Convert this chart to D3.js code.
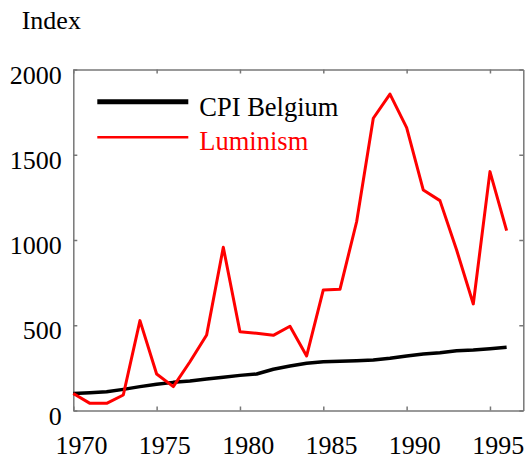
<!DOCTYPE html>
<html>
<head>
<meta charset="utf-8">
<title>CPI Belgium vs Luminism</title>
<script src="https://d3js.org/d3.v7.min.js"></script>
<style type="text/css">
body {
    margin: 0;
    background: #fff;
}
</style>
</head>
<body>
<div id="chart"></div>
<script>
// data
var years = [1970, 1971, 1972, 1973, 1974, 1975, 1976, 1977, 1978, 1979,
             1980, 1981, 1982, 1983, 1984, 1985, 1986, 1987, 1988, 1989,
             1990, 1991, 1992, 1993, 1994, 1995, 1996];
var cpiBelgium = [100, 104, 110, 124, 140, 154, 165, 173, 185, 195,
                  206, 214, 242, 261, 277, 286, 289, 292, 296, 306,
                  320, 331, 339, 351, 355, 362, 371];
var luminism = [100, 42, 42, 91, 527, 214, 140, 286, 443, 957,
                462, 453, 441, 494, 320, 707, 711, 1107, 1714, 1856,
                1659, 1293, 1231, 941, 625, 1401, 1055];
var xTicks = [1970, 1975, 1980, 1985, 1990, 1995];
var yTicks = [0, 500, 1000, 1500, 2000];
var seriesNames = ["CPI Belgium", "Luminism"];

var width = 526, height = 460;
var frameColor = "#777";
var serif = "'Liberation Serif', 'Times New Roman', serif";

var svg = d3.select("#chart")
  .append("svg")
    .attr("width", width)
    .attr("height", height);

var x = d3.scaleLinear().domain([1970, 1997]).range([73.3, 523.3]);
var y = d3.scaleLinear().domain([0, 2000]).range([410.5, 69.5]);

// axes, ticks pointing inwards on all four sides
var bottom = svg.append("g")
  .attr("transform", "translate(0," + y(0) + ")")
  .call(d3.axisBottom(x).tickValues(xTicks).tickSize(-4).tickSizeOuter(0).tickFormat(d3.format("d")));
bottom.selectAll("text")
  .attr("y", 43).attr("dy", 0).attr("dx", 7.7);

var left = svg.append("g")
  .attr("transform", "translate(" + x(1970) + ",0)")
  .call(d3.axisLeft(y).tickValues(yTicks).tickSize(-4).tickSizeOuter(0).tickFormat(d3.format("d")));
left.selectAll("text")
  .attr("x", -11.6).attr("dy", 13.5);

svg.append("g")
  .attr("transform", "translate(0," + y(2000) + ")")
  .call(d3.axisTop(x).tickValues(xTicks).tickSize(-4).tickSizeOuter(0).tickFormat(""));

svg.append("g")
  .attr("transform", "translate(" + x(1997) + ",0)")
  .call(d3.axisRight(y).tickValues(yTicks).tickSize(-4).tickSizeOuter(0).tickFormat(""));

svg.selectAll(".domain, .tick line")
  .attr("stroke", frameColor)
  .attr("stroke-width", 1.5);
svg.selectAll(".tick text")
  .attr("fill", "#000")
  .style("font-size", "26px")
  .style("font-family", serif);

// lines
var line = function(vals) {
  return d3.line()
    .x(function(d, i) { return x(years[i]); })
    .y(function(d) { return y(d); })(vals);
};

svg.append("path")
  .attr("d", line(cpiBelgium))
  .attr("fill", "none")
  .attr("stroke", "#000")
  .attr("stroke-width", 3.5)
  .attr("stroke-linejoin", "round");

svg.append("path")
  .attr("d", line(luminism))
  .attr("fill", "none")
  .attr("stroke", "#ff0000")
  .attr("stroke-width", 3)
  .attr("stroke-linejoin", "round");

// y label
svg.append("text")
  .attr("x", 21.7)
  .attr("y", 29.3)
  .style("font-size", "26px")
  .style("font-family", serif)
  .text("Index");

// legend
var legend = svg.append("g");
legend.append("line")
  .attr("x1", 97.3).attr("x2", 188.3)
  .attr("y1", 101.7).attr("y2", 101.7)
  .attr("stroke", "#000").attr("stroke-width", 5);
legend.append("text")
  .attr("x", 199.3).attr("y", 116)
  .style("font-size", "26.5px")
  .style("font-family", serif)
  .attr("fill", "#000")
  .text(seriesNames[0]);
legend.append("line")
  .attr("x1", 97.3).attr("x2", 188.3)
  .attr("y1", 137.3).attr("y2", 137.3)
  .attr("stroke", "#ff0000").attr("stroke-width", 2.5);
legend.append("text")
  .attr("x", 199.3).attr("y", 150)
  .style("font-size", "26.5px")
  .style("font-family", serif)
  .attr("fill", "#ff0000")
  .text(seriesNames[1]);
</script>
</body>
</html>
